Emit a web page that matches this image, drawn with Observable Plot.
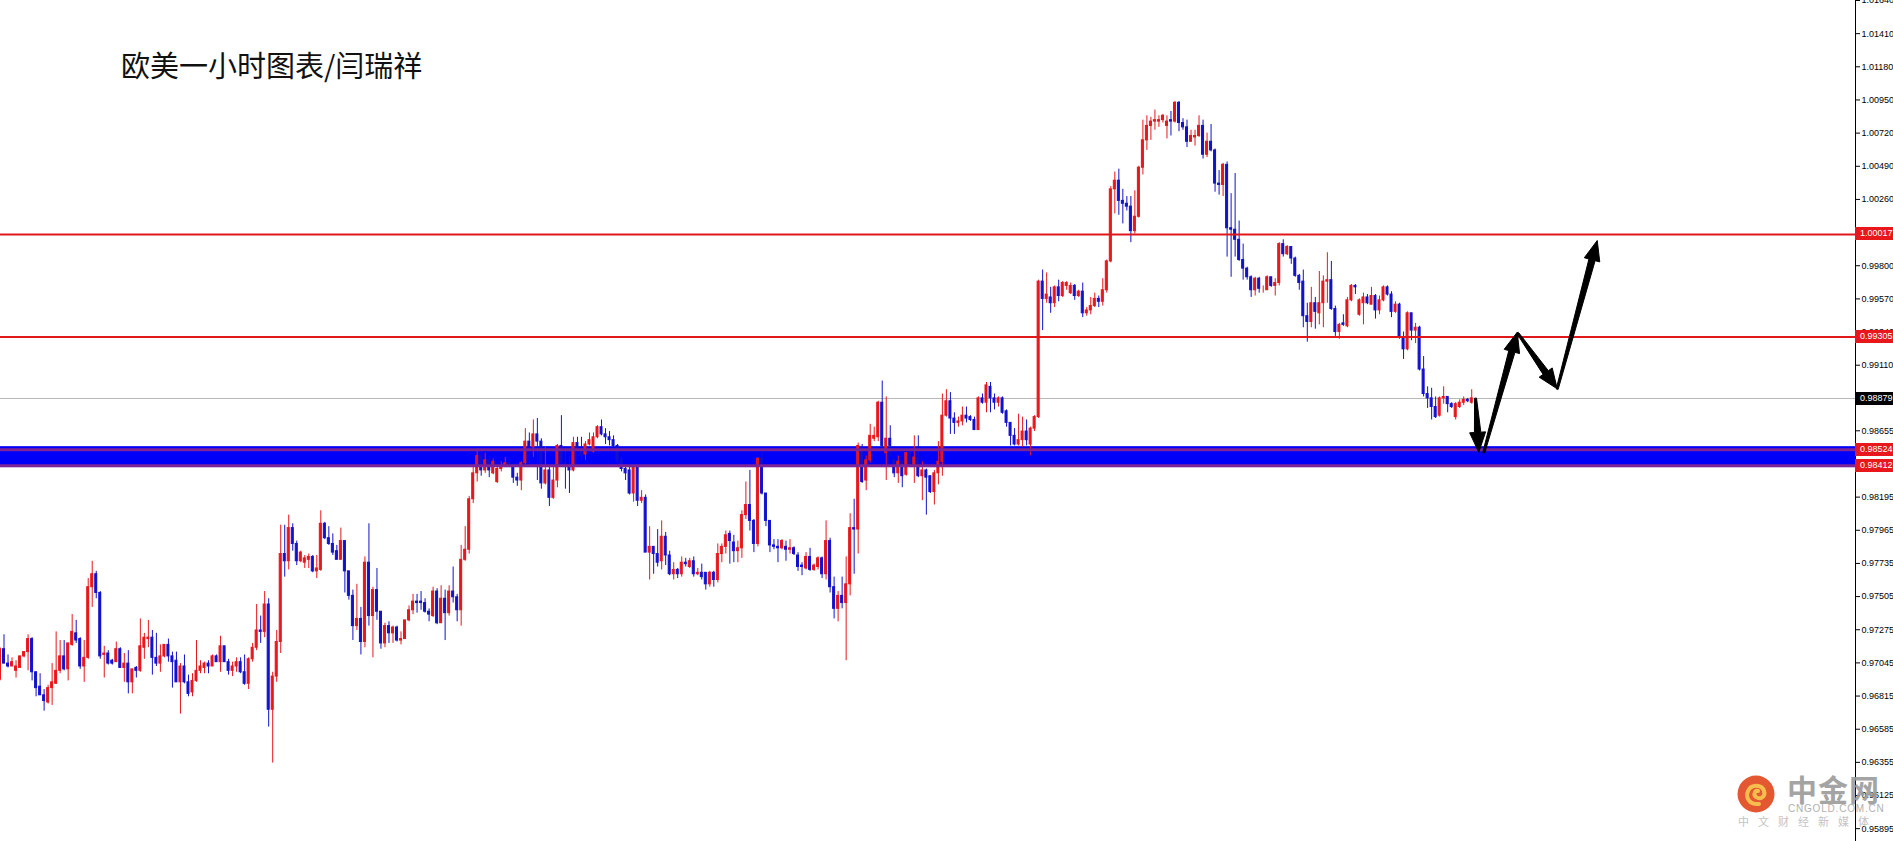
<!DOCTYPE html>
<html><head><meta charset="utf-8">
<script src="https://cdn.jsdelivr.net/npm/d3@7"></script>
<script src="https://cdn.jsdelivr.net/npm/@observablehq/plot@0.6"></script>
<style>
body{margin:0;background:#fff;}
#wrap{position:relative;width:1893px;height:841px;overflow:hidden;background:#fff;}
#title{position:absolute;left:121px;top:50px;font-family:"Noto Sans CJK SC";font-size:29px;line-height:29px;color:#111;white-space:nowrap;}
.lvl{position:absolute;left:1855px;width:40px;height:13px;font-family:"Liberation Sans";font-size:9px;color:#fff;line-height:13px;padding-left:5px;box-sizing:border-box;}
#wm{position:absolute;left:1736px;top:772px;width:157px;height:69px;opacity:0.9;}
</style></head><body>
<div id="wrap">
<div id="chart"></div>
<div id="title">欧美一小时图表/闫瑞祥</div>
<div id="wm">
 <svg width="40" height="40" style="position:absolute;left:0;top:2px">
  <circle cx="20" cy="20" r="18.5" fill="#e2461b"/>
  <path d="M23 30 C 14 31, 9 24, 12 17 C 15 10, 26 10, 28 17 C 30 23, 24 26, 20 23 C 17 21, 19 16, 22 17" fill="none" stroke="#f6b93a" stroke-width="4" stroke-linecap="round"/>
 </svg>
 <div style="position:absolute;left:51px;top:-6px;font:700 30px 'Noto Sans CJK SC';color:#9b9b9b;letter-spacing:1px;white-space:nowrap">中金网</div>
 <div style="position:absolute;left:52px;top:31px;font:10px 'Liberation Sans';line-height:12px;color:#a8a8a8;letter-spacing:0.8px;white-space:nowrap">CNGOLD.COM.CN</div>
 <div style="position:absolute;left:2px;top:43px;font:11px 'Noto Sans CJK SC';line-height:13px;color:#bdbdbd;letter-spacing:9px;white-space:nowrap">中文财经新媒体</div>
</div>
</div>
<script>
// ---- hourly EUR/USD candles (price) ----
const opens = [
0.9693,0.9714,0.9704,0.9702,0.9699,0.9701,0.9709,0.9712,0.9721,0.9698,
0.9688,0.9682,0.9677,0.9687,0.9690,0.9699,0.9709,0.9700,0.9717,0.9725,
0.9721,0.9702,0.9708,0.9757,0.9766,0.9753,0.9710,0.9711,0.9706,0.9705,
0.9714,0.9701,0.9704,0.9691,0.9701,0.9699,0.9715,0.9721,0.9722,0.9708,
0.9704,0.9709,0.9717,0.9709,0.9706,0.9691,0.9702,0.9691,0.9684,0.9692,
0.9699,0.9701,0.9704,0.9702,0.9709,0.9705,0.9716,0.9705,0.9699,0.9702,
0.9705,0.9698,0.9690,0.9707,0.9715,0.9727,0.9726,0.9745,0.9672,0.9695,
0.9719,0.9780,0.9775,0.9798,0.9787,0.9775,0.9774,0.9776,0.9778,0.9768,
0.9769,0.9801,0.9791,0.9787,0.9782,0.9776,0.9789,0.9768,0.9751,0.9730,
0.9735,0.9719,0.9774,0.9737,0.9755,0.9740,0.9718,0.9730,0.9725,0.9729,
0.9720,0.9721,0.9734,0.9741,0.9747,0.9747,0.9746,0.9740,0.9737,0.9754,
0.9732,0.9749,0.9739,0.9754,0.9750,0.9741,0.9776,0.9783,0.9818,0.9836,
0.9848,0.9838,0.9845,0.9836,0.9830,0.9839,0.9841,0.9843,0.9841,0.9833,
0.9831,0.9843,0.9858,0.9854,0.9863,0.9858,0.9829,0.9838,0.9819,0.9831,
0.9855,0.9843,0.9842,0.9838,0.9857,0.9853,0.9849,0.9856,0.9851,0.9861,
0.9868,0.9863,0.9861,0.9859,0.9855,0.9845,0.9839,0.9838,0.9822,0.9840,
0.9817,0.9819,0.9781,0.9785,0.9780,0.9775,0.9792,0.9779,0.9766,0.9769,
0.9766,0.9774,0.9771,0.9775,0.9766,0.9767,0.9767,0.9759,0.9767,0.9762,
0.9780,0.9785,0.9794,0.9788,0.9782,0.9784,0.9807,0.9814,0.9803,0.9787,
0.9846,0.9822,0.9803,0.9786,0.9785,0.9784,0.9785,0.9783,0.9784,0.9779,
0.9772,0.9770,0.9778,0.9769,0.9771,0.9777,0.9766,0.9789,0.9757,0.9742,
0.9751,0.9746,0.9759,0.9798,0.9797,0.9852,0.9831,0.9845,0.9860,0.9861,
0.9885,0.9850,0.9860,0.9845,0.9836,0.9844,0.9835,0.9850,0.9841,0.9847,
0.9834,0.9838,0.9834,0.9823,0.9836,0.9844,0.9876,0.9886,0.9874,0.9871,
0.9872,0.9876,0.9875,0.9873,0.9866,0.9888,0.9885,0.9896,0.9888,0.9885,
0.9888,0.9879,0.9871,0.9862,0.9856,0.9859,0.9865,0.9856,0.9867,0.9875,
0.9969,0.9957,0.9958,0.9954,0.9965,0.9959,0.9966,0.9961,0.9966,0.9959,
0.9962,0.9947,0.9949,0.9952,0.9957,0.9955,0.9963,0.9983,1.0033,1.0039,
1.0025,1.0023,1.0021,1.0004,1.0014,1.0048,1.0067,1.0077,1.0080,1.0080,
1.0081,1.0077,1.0081,1.0080,1.0093,1.0079,1.0076,1.0066,1.0069,1.0070,
1.0077,1.0057,1.0066,1.0060,1.0037,1.0036,1.0050,1.0006,1.0005,0.9998,
0.9984,0.9978,0.9972,0.9963,0.9971,0.9964,0.9963,0.9972,0.9966,0.9968,
0.9995,0.9988,0.9993,0.9985,0.9973,0.9969,0.9945,0.9941,0.9954,0.9947,
0.9954,0.9969,0.9970,0.9950,0.9934,0.9940,0.9938,0.9956,0.9966,0.9946,
0.9954,0.9958,0.9953,0.9959,0.9949,0.9956,0.9965,0.9960,0.9948,0.9953,
0.9930,0.9922,0.9947,0.9935,0.9937,0.9908,0.9891,0.9888,0.9882,0.9876,
0.9888,0.9889,0.9884,0.9875,0.9882,0.9885,0.9887,0.9885];
const highs = [
0.9715,0.9724,0.9710,0.9708,0.9706,0.9709,0.9712,0.9724,0.9722,0.9698,
0.9697,0.9686,0.9689,0.9704,0.9726,0.9720,0.9720,0.9718,0.9738,0.9734,
0.9722,0.9720,0.9763,0.9775,0.9768,0.9754,0.9716,0.9713,0.9707,0.9719,
0.9715,0.9711,0.9713,0.9700,0.9702,0.9735,0.9725,0.9734,0.9727,0.9725,
0.9717,0.9717,0.9721,0.9712,0.9712,0.9704,0.9710,0.9696,0.9697,0.9720,
0.9706,0.9705,0.9706,0.9710,0.9710,0.9723,0.9716,0.9707,0.9705,0.9708,
0.9708,0.9710,0.9708,0.9718,0.9745,0.9737,0.9754,0.9749,0.9698,0.9727,
0.9800,0.9800,0.9807,0.9801,0.9789,0.9782,0.9779,0.9780,0.9779,0.9779,
0.9810,0.9802,0.9799,0.9794,0.9786,0.9798,0.9789,0.9768,0.9755,0.9759,
0.9743,0.9778,0.9801,0.9757,0.9770,0.9740,0.9732,0.9733,0.9730,0.9730,
0.9726,0.9734,0.9744,0.9752,0.9752,0.9754,0.9749,0.9742,0.9757,0.9756,
0.9758,0.9755,0.9758,0.9771,0.9752,0.9786,0.9799,0.9820,0.9840,0.9853,
0.9851,0.9850,0.9848,0.9846,0.9841,0.9844,0.9847,0.9844,0.9842,0.9836,
0.9844,0.9867,0.9864,0.9873,0.9874,0.9860,0.9854,0.9841,0.9840,0.9856,
0.9876,0.9854,0.9848,0.9861,0.9861,0.9861,0.9858,0.9864,0.9864,0.9869,
0.9873,0.9867,0.9865,0.9862,0.9856,0.9847,0.9841,0.9841,0.9841,0.9841,
0.9824,0.9821,0.9799,0.9785,0.9797,0.9803,0.9795,0.9782,0.9774,0.9770,
0.9778,0.9777,0.9777,0.9778,0.9770,0.9773,0.9767,0.9768,0.9768,0.9787,
0.9787,0.9796,0.9796,0.9793,0.9789,0.9810,0.9830,0.9838,0.9804,0.9847,
0.9850,0.9822,0.9803,0.9790,0.9790,0.9790,0.9789,0.9790,0.9785,0.9781,
0.9774,0.9781,0.9784,0.9773,0.9778,0.9778,0.9803,0.9791,0.9764,0.9754,
0.9764,0.9778,0.9808,0.9818,0.9857,0.9856,0.9848,0.9870,0.9868,0.9886,
0.9900,0.9889,0.9869,0.9846,0.9848,0.9845,0.9850,0.9851,0.9862,0.9862,
0.9844,0.9839,0.9834,0.9838,0.9858,0.9891,0.9894,0.9892,0.9878,0.9875,
0.9882,0.9882,0.9876,0.9875,0.9889,0.9891,0.9899,0.9899,0.9891,0.9889,
0.9889,0.9880,0.9871,0.9867,0.9877,0.9875,0.9873,0.9868,0.9876,0.9970,
0.9977,0.9975,0.9965,0.9966,0.9970,0.9969,0.9969,0.9968,0.9967,0.9963,
0.9968,0.9951,0.9958,0.9961,0.9959,0.9971,0.9984,1.0035,1.0045,1.0047,
1.0033,1.0028,1.0028,1.0032,1.0049,1.0081,1.0084,1.0083,1.0088,1.0084,
1.0085,1.0084,1.0087,1.0094,1.0094,1.0082,1.0081,1.0074,1.0074,1.0084,
1.0081,1.0072,1.0078,1.0061,1.0046,1.0051,1.0052,1.0030,1.0044,1.0011,
0.9995,0.9979,0.9973,0.9972,0.9972,0.9966,0.9973,0.9972,0.9971,0.9996,
0.9998,0.9994,0.9993,0.9986,0.9974,0.9977,0.9954,0.9965,0.9958,0.9976,
0.9973,0.9989,0.9983,0.9952,0.9940,0.9946,0.9958,0.9967,0.9967,0.9957,
0.9961,0.9960,0.9965,0.9960,0.9959,0.9966,0.9966,0.9962,0.9955,0.9954,
0.9934,0.9948,0.9947,0.9940,0.9938,0.9917,0.9896,0.9895,0.9889,0.9889,
0.9896,0.9889,0.9885,0.9885,0.9887,0.9889,0.9888,0.9894];
const lows = [
0.9692,0.9704,0.9701,0.9702,0.9694,0.9701,0.9708,0.9699,0.9692,0.9681,
0.9682,0.9671,0.9676,0.9675,0.9690,0.9697,0.9699,0.9692,0.9716,0.9718,
0.9700,0.9691,0.9707,0.9743,0.9749,0.9707,0.9694,0.9703,0.9703,0.9705,
0.9701,0.9691,0.9683,0.9683,0.9694,0.9698,0.9707,0.9715,0.9696,0.9702,
0.9698,0.9708,0.9705,0.9687,0.9691,0.9669,0.9690,0.9681,0.9681,0.9691,
0.9697,0.9697,0.9697,0.9702,0.9705,0.9698,0.9705,0.9696,0.9695,0.9698,
0.9697,0.9689,0.9686,0.9705,0.9713,0.9718,0.9722,0.9660,0.9635,0.9691,
0.9711,0.9764,0.9769,0.9782,0.9772,0.9774,0.9770,0.9770,0.9767,0.9763,
0.9768,0.9790,0.9786,0.9779,0.9776,0.9776,0.9753,0.9748,0.9720,0.9727,
0.9710,0.9715,0.9730,0.9708,0.9734,0.9714,0.9715,0.9718,0.9718,0.9719,
0.9717,0.9721,0.9733,0.9738,0.9739,0.9741,0.9739,0.9733,0.9736,0.9731,
0.9732,0.9720,0.9737,0.9746,0.9733,0.9730,0.9775,0.9780,0.9815,0.9830,
0.9834,0.9836,0.9833,0.9835,0.9829,0.9837,0.9840,0.9840,0.9829,0.9827,
0.9824,0.9842,0.9841,0.9847,0.9831,0.9825,0.9828,0.9813,0.9818,0.9826,
0.9841,0.9825,0.9822,0.9837,0.9852,0.9845,0.9845,0.9855,0.9850,0.9860,
0.9862,0.9856,0.9855,0.9854,0.9842,0.9837,0.9831,0.9821,0.9816,0.9813,
0.9815,0.9781,0.9762,0.9766,0.9771,0.9769,0.9772,0.9765,0.9762,0.9763,
0.9764,0.9771,0.9770,0.9764,0.9765,0.9762,0.9755,0.9757,0.9757,0.9760,
0.9774,0.9780,0.9773,0.9774,0.9774,0.9777,0.9804,0.9796,0.9781,0.9785,
0.9821,0.9799,0.9781,0.9783,0.9774,0.9783,0.9775,0.9780,0.9779,0.9768,
0.9765,0.9769,0.9768,0.9768,0.9769,0.9763,0.9762,0.9753,0.9735,0.9733,
0.9742,0.9706,0.9751,0.9766,0.9780,0.9829,0.9824,0.9843,0.9858,0.9858,
0.9852,0.9831,0.9848,0.9833,0.9829,0.9826,0.9834,0.9840,0.9829,0.9833,
0.9817,0.9807,0.9822,0.9814,0.9828,0.9834,0.9875,0.9863,0.9863,0.9868,
0.9869,0.9871,0.9872,0.9866,0.9866,0.9884,0.9878,0.9878,0.9880,0.9882,
0.9877,0.9868,0.9855,0.9855,0.9855,0.9854,0.9855,0.9848,0.9865,0.9874,
0.9935,0.9954,0.9947,0.9951,0.9955,0.9958,0.9963,0.9960,0.9956,0.9958,
0.9944,0.9945,0.9946,0.9951,0.9951,0.9952,0.9961,0.9982,1.0016,1.0015,
1.0009,1.0018,0.9996,1.0002,1.0013,1.0043,1.0060,1.0067,1.0074,1.0076,
1.0079,1.0068,1.0070,1.0079,1.0073,1.0074,1.0062,1.0066,1.0063,1.0069,
1.0054,1.0055,1.0059,1.0031,1.0029,1.0028,0.9986,0.9972,0.9986,0.9983,
0.9970,0.9970,0.9958,0.9959,0.9961,0.9961,0.9963,0.9965,0.9959,0.9966,
0.9986,0.9987,0.9981,0.9972,0.9963,0.9937,0.9927,0.9937,0.9936,0.9939,
0.9937,0.9954,0.9949,0.9931,0.9929,0.9938,0.9937,0.9955,0.9960,0.9945,
0.9939,0.9953,0.9953,0.9943,0.9946,0.9955,0.9959,0.9944,0.9947,0.9929,
0.9915,0.9921,0.9928,0.9926,0.9907,0.9889,0.9881,0.9873,0.9874,0.9875,
0.9884,0.9878,0.9881,0.9873,0.9881,0.9883,0.9885,0.9884];
const closes = [
0.9714,0.9704,0.9702,0.9705,0.9702,0.9709,0.9712,0.9721,0.9698,0.9687,
0.9682,0.9678,0.9687,0.9691,0.9699,0.9709,0.9700,0.9718,0.9726,0.9720,
0.9702,0.9708,0.9757,0.9766,0.9753,0.9709,0.9711,0.9704,0.9704,0.9714,
0.9701,0.9704,0.9691,0.9700,0.9699,0.9716,0.9722,0.9722,0.9708,0.9704,
0.9709,0.9717,0.9709,0.9705,0.9691,0.9702,0.9691,0.9683,0.9692,0.9699,
0.9702,0.9704,0.9702,0.9709,0.9705,0.9716,0.9705,0.9699,0.9702,0.9705,
0.9698,0.9690,0.9707,0.9715,0.9727,0.9726,0.9745,0.9672,0.9695,0.9719,
0.9780,0.9775,0.9798,0.9787,0.9775,0.9781,0.9777,0.9778,0.9768,0.9770,
0.9801,0.9791,0.9787,0.9781,0.9776,0.9789,0.9768,0.9751,0.9730,0.9735,
0.9719,0.9774,0.9737,0.9755,0.9740,0.9718,0.9730,0.9725,0.9729,0.9720,
0.9721,0.9734,0.9741,0.9747,0.9746,0.9746,0.9740,0.9738,0.9754,0.9732,
0.9749,0.9739,0.9754,0.9750,0.9741,0.9776,0.9783,0.9818,0.9836,0.9848,
0.9838,0.9845,0.9838,0.9844,0.9839,0.9841,0.9843,0.9841,0.9833,0.9831,
0.9843,0.9858,0.9854,0.9863,0.9858,0.9829,0.9838,0.9819,0.9831,0.9855,
0.9843,0.9842,0.9838,0.9857,0.9853,0.9848,0.9856,0.9859,0.9861,0.9868,
0.9863,0.9861,0.9859,0.9855,0.9845,0.9839,0.9836,0.9822,0.9840,0.9817,
0.9819,0.9781,0.9785,0.9780,0.9774,0.9792,0.9779,0.9766,0.9769,0.9766,
0.9774,0.9773,0.9775,0.9766,0.9767,0.9764,0.9759,0.9767,0.9762,0.9780,
0.9785,0.9793,0.9789,0.9782,0.9784,0.9807,0.9814,0.9803,0.9787,0.9846,
0.9822,0.9803,0.9786,0.9785,0.9784,0.9789,0.9783,0.9784,0.9780,0.9771,
0.9771,0.9778,0.9769,0.9772,0.9777,0.9766,0.9789,0.9757,0.9742,0.9751,
0.9746,0.9759,0.9798,0.9797,0.9855,0.9830,0.9845,0.9862,0.9862,0.9885,
0.9855,0.9860,0.9855,0.9836,0.9844,0.9834,0.9850,0.9841,0.9847,0.9834,
0.9838,0.9833,0.9823,0.9836,0.9844,0.9876,0.9886,0.9874,0.9871,0.9872,
0.9876,0.9874,0.9873,0.9866,0.9888,0.9885,0.9897,0.9888,0.9885,0.9888,
0.9878,0.9871,0.9862,0.9856,0.9859,0.9865,0.9859,0.9867,0.9875,0.9969,
0.9957,0.9960,0.9954,0.9965,0.9959,0.9968,0.9968,0.9966,0.9959,0.9962,
0.9947,0.9949,0.9952,0.9957,0.9955,0.9963,0.9983,1.0033,1.0039,1.0025,
1.0023,1.0021,1.0004,1.0014,1.0048,1.0067,1.0077,1.0080,1.0081,1.0081,
1.0084,1.0080,1.0080,1.0093,1.0079,1.0076,1.0066,1.0070,1.0070,1.0077,
1.0057,1.0066,1.0060,1.0037,1.0036,1.0050,1.0006,1.0005,0.9998,0.9984,
0.9978,0.9972,0.9963,0.9971,0.9964,0.9964,0.9972,0.9966,0.9968,0.9995,
0.9988,0.9993,0.9985,0.9973,0.9968,0.9945,0.9941,0.9954,0.9948,0.9954,
0.9969,0.9970,0.9950,0.9934,0.9939,0.9939,0.9956,0.9966,0.9965,0.9956,
0.9958,0.9954,0.9959,0.9949,0.9956,0.9965,0.9960,0.9948,0.9953,0.9930,
0.9922,0.9947,0.9935,0.9937,0.9908,0.9891,0.9888,0.9882,0.9875,0.9888,
0.9889,0.9884,0.9882,0.9884,0.9885,0.9887,0.9886,0.9888];

// ---- axis and annotation values ----
const yTicks = [1.0164,1.0141,1.0118,1.0095,1.0072,1.0049,1.0026,1.0003,0.9980,0.9957,0.9934,0.9911,0.9888,
  0.98655,0.98425,0.98195,0.97965,0.97735,0.97505,0.97275,0.97045,0.96815,0.96585,0.96355,0.96125,0.95895];
const redLevels = [1.00017, 0.99305];
const bandLevels = [0.98524, 0.98412];
const bandZone = [0.98545, 0.98400];
const lastPrice = 0.98879;
// forecast arrows: bar index and price of tail / head
const arrowX1 = [367.96, 370.02, 378.50, 388.33];
const arrowY1 = [0.98879, 0.98506, 0.99332, 0.98946];
const arrowX2 = [368.77, 378.35, 388.33, 398.30];
const arrowY2 = [0.98506, 0.99339, 0.98946, 0.99975];

const RED = "#e8171c", BLUE = "#1212cc";
const xDomain = [0.125, 462.7], yDomain = [0.95806, 1.0164];
const W = 1893, H = 841, MR = 38;
const candles = opens.map((o, i) => ({i, open: o, high: highs[i], low: lows[i], close: closes[i]}));
const col = d => d.close >= d.open ? RED : BLUE;

// tapered, filled arrow outlines built in screen space through the same scales, then mapped back
const sx = Plot.scale({x: {type: "linear", domain: xDomain, range: [0, W - MR]}});
const sy = Plot.scale({y: {type: "linear", domain: yDomain, range: [H, 0]}});
const arrowPts = [];
arrowX1.forEach((xv, k) => {
  const x0 = sx.apply(xv), y0 = sy.apply(arrowY1[k]);
  const x1 = sx.apply(arrowX2[k]), y1 = sy.apply(arrowY2[k]);
  const L = Math.hypot(x1 - x0, y1 - y0), ux = (x1 - x0) / L, uy = (y1 - y0) / L;
  const nx = -uy, ny = ux, head = Math.min(20, L * 0.4);
  const bx = x1 - ux * head, by = y1 - uy * head;
  const poly = [[x0 + nx * 1, y0 + ny * 1], [bx + nx * 3.2, by + ny * 3.2], [bx + nx * 8, by + ny * 8], [x1, y1],
                [bx - nx * 8, by - ny * 8], [bx - nx * 3.2, by - ny * 3.2], [x0 - nx * 1, y0 - ny * 1]];
  for (const [px, py] of poly) arrowPts.push({k, x: sx.invert(px), y: sy.invert(py)});
});

const plot = Plot.plot({
  width: W, height: H,
  marginLeft: 0, marginRight: MR, marginTop: 0, marginBottom: 0,
  style: {fontFamily: "Liberation Sans", fontSize: "9px", background: "transparent", color: "#000", overflow: "visible"},
  x: {domain: xDomain, axis: null},
  y: {domain: yDomain, axis: null},
  color: {type: "identity"},
  marks: [
    Plot.rect([bandZone], {y1: d => d[0], y2: d => d[1], fill: "#0000fa"}),
    Plot.ruleY([lastPrice], {stroke: "#b8b8b8", strokeWidth: 1}),
    Plot.ruleX(candles, {x: "i", y1: "low", y2: "high", stroke: col, strokeWidth: 1}),
    Plot.rect(candles, {x1: d => d.i - 0.25, x2: d => d.i + 0.25, y1: "open", y2: "close", fill: col, stroke: col, strokeWidth: 1}),
    Plot.ruleY(bandLevels, {stroke: "#7e2496", strokeWidth: 3}),
    Plot.ruleY(redLevels, {stroke: "#e0181c", strokeWidth: 2}),
    Plot.line(arrowPts, {x: "x", y: "y", z: "k", curve: "linear-closed", fill: "#000", stroke: "#000", strokeWidth: 1}),
    Plot.frame({anchor: "right", stroke: "#000"}),
    Plot.axisY(yTicks, {anchor: "right", tickFormat: d => d.toFixed(5), tickSize: 4, tickPadding: 2, label: null})
  ]
});
document.getElementById("chart").appendChild(plot);

// price tags on the right axis
const ys = plot.scale("y");
const tags = [
  ...redLevels.map(v => ({v, bg: "#e8171c"})),
  ...bandLevels.map(v => ({v, bg: "#e8171c"})),
  {v: lastPrice, bg: "#000"}
];
const wrap = document.getElementById("wrap");
for (const t of tags) {
  const d = document.createElement("div");
  d.className = "lvl";
  d.style.background = t.bg;
  d.style.top = (ys.apply(t.v) - 6.5) + "px";
  d.textContent = t.v.toFixed(5);
  wrap.insertBefore(d, document.getElementById("wm"));
}
</script>
</body></html>
